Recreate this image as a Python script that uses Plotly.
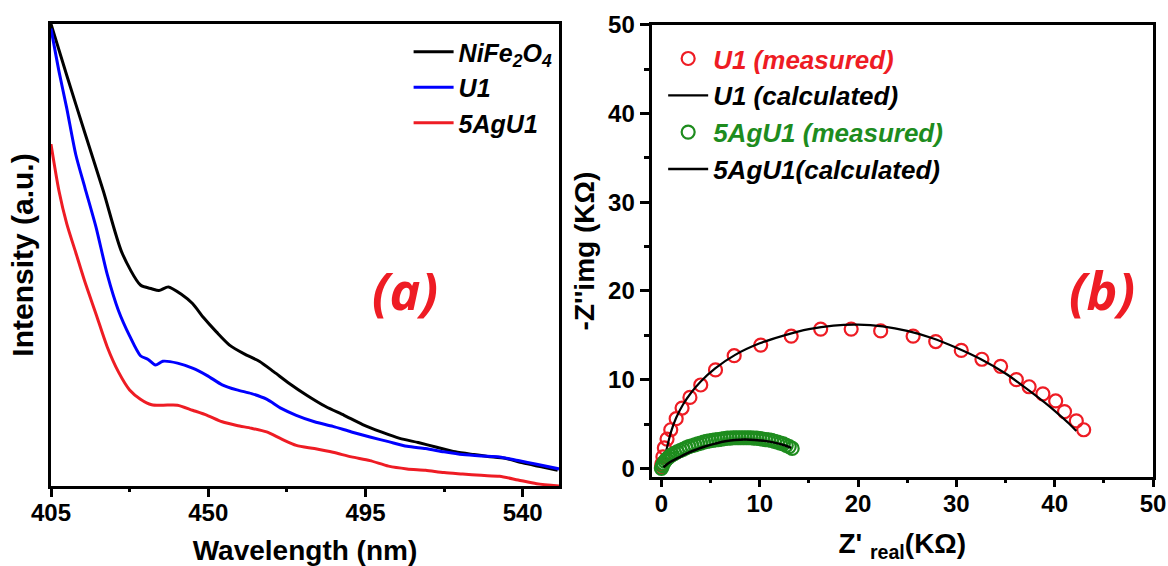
import plotly.graph_objects as go

# ---------------- Panel (a) data: intensity (a.u.) vs wavelength ----------------
wl_black = [405, 409.5, 414.7, 420, 425.3, 430.6, 433.8, 435.9, 438.6, 442.3, 445.5, 448.7,
            452.4, 456.1, 460.3, 464.6, 468.8, 473, 478.3, 483.6, 488.9, 494.2, 499.5,
            504.8, 510.1, 515.4, 520.7, 526, 530, 535, 540, 545, 550]
int_black = [100, 88.9, 76.4, 63.8, 50.5, 43.5, 42.7, 42.3, 43.1, 41.5, 39.5, 36.4,
             33.3, 30.5, 28.6, 27.0, 24.7, 22.3, 19.6, 17.2, 15.3, 13.3, 11.7,
             10.3, 9.4, 8.4, 7.4, 6.8, 6.4, 6.0, 5.0, 4.2, 3.4]

wl_blue = [405, 407.3, 409.5, 412.1, 414.7, 417.9, 421.1, 424.3, 427.5, 430.6, 432.8, 434.9,
           437, 441.2, 445.5, 449.7, 454, 458.2, 462.4, 466.7, 470.9, 475.2, 480.4, 485.7,
           491, 496.3, 501.6, 506.9, 512.2, 517.5, 522.8, 528.1, 533.4, 538.7, 544, 550.4]
int_blue = [99, 89.7, 81.8, 71.7, 64.6, 56.0, 45.8, 38.0, 32.5, 28.2, 27.4, 26.2,
            27.0, 26.6, 25.5, 23.9, 21.9, 20.8, 20.0, 18.8, 16.8, 15.3, 13.9, 12.9,
            11.7, 10.6, 9.6, 8.6, 8.1, 7.4, 6.8, 6.5, 6.3, 5.5, 4.7, 3.7]

wl_red = [405, 407.3, 409.5, 412.1, 414.7, 417.9, 421.1, 424.3, 427.5, 430.6, 433.8, 437,
          441.2, 445.5, 449.7, 454, 458.2, 462.4, 466.7, 470.9, 475.2, 480.4, 485.7, 491,
          496.3, 501.6, 506.9, 512.2, 517.5, 522.8, 528.1, 533.4, 538.7, 544, 550.4]
int_red = [74, 63.8, 56.8, 50.5, 44.2, 37.2, 30.1, 24.7, 20.8, 18.8, 17.6, 17.5,
           17.5, 16.4, 15.3, 13.9, 13.1, 12.5, 11.7, 10.2, 8.8, 8.1, 7.3, 6.3,
           5.5, 4.3, 3.7, 3.4, 2.9, 2.6, 2.3, 2.1, 1.3, 0.5, 0.0]

wl_ticks = [405, 450, 495, 540]
wl_minor_ticks = [427.5, 472.5, 517.5]

# ---------------- Panel (b) data: Nyquist plot ----------------
u1_meas_re = [0.0, 0.05, 0.15, 0.3, 0.57, 0.95, 1.5, 2.1, 2.9, 4.0, 5.5, 7.4, 10.1, 13.2,
              16.2, 19.3, 22.3, 25.6, 27.9, 30.5, 32.6, 34.5, 36.1, 37.4, 38.8, 40.1,
              41.0, 42.2, 42.95]
u1_meas_im = [0.1, 0.5, 1.3, 2.3, 3.3, 4.35, 5.6, 6.8, 8.0, 9.4, 11.1, 12.7, 13.9, 14.9,
              15.7, 15.7, 15.5, 14.9, 14.3, 13.3, 12.3, 11.5, 10.0, 9.2, 8.4, 7.6,
              6.4, 5.35, 4.35]

u1_calc_re = [0.3, 0.6, 1.0, 1.5, 2.2, 3.0, 4.0, 5.5, 7.5, 10, 12.5, 15, 17.5, 20, 22.5,
              25, 27.5, 30, 32.5, 35, 37, 39, 40.5, 41.5, 42.2]
u1_calc_im = [1.0, 2.5, 4.2, 5.7, 7.2, 8.5, 9.8, 11.3, 12.8, 14.1, 15.0, 15.7, 16.1, 16.2,
              16.0, 15.5, 14.7, 13.6, 12.3, 10.7, 9.1, 7.4, 6.0, 5.0, 4.2]

ag_meas_re = [0.0, 0.1, 0.2, 0.35, 0.5, 0.7, 0.9, 1.1, 1.35, 1.6, 1.9, 2.2, 2.5, 2.8, 3.1,
              3.4, 3.7, 4.0, 4.3, 4.6, 4.9, 5.2, 5.5, 5.8, 6.1, 6.4, 6.7, 7.0, 7.3, 7.6,
              7.9, 8.2, 8.5, 8.8, 9.1, 9.4, 9.7, 10.0, 10.3, 10.6, 10.9, 11.2, 11.5, 11.8,
              12.1, 12.4, 12.7, 13.0, 13.3]
ag_meas_im = [0.0, 0.3, 0.55, 0.8, 1.0, 1.2, 1.4, 1.55, 1.7, 1.85, 2.0, 2.15, 2.3, 2.45, 2.55,
              2.65, 2.75, 2.85, 2.95, 3.05, 3.1, 3.15, 3.2, 3.25, 3.3, 3.35, 3.4, 3.4, 3.45, 3.45,
              3.45, 3.45, 3.45, 3.45, 3.45, 3.4, 3.4, 3.35, 3.3, 3.25, 3.2, 3.15, 3.05, 2.95,
              2.85, 2.75, 2.6, 2.45, 2.25]

ag_calc_re = [0.2, 0.6, 1.2, 2.0, 2.6, 3.5, 4.5, 5.5, 6.5, 7.5, 8.5, 9.5, 10.5, 11.5, 12.5, 13.2]
ag_calc_im = [0.1, 0.5, 0.9, 1.35, 1.7, 2.1, 2.5, 2.8, 3.05, 3.2, 3.25, 3.2, 3.1, 2.9, 2.6, 2.3]

z_ticks = [0, 10, 20, 30, 40, 50]

RED = "#ee1c24"
BLUE = "#0000ff"
GREEN = "#1e8c1e"
FONT = "Liberation Sans"

fig = go.Figure()

# Panel (a) traces
spl = dict(shape="spline", smoothing=0.7)
fig.add_trace(go.Scatter(x=wl_black, y=int_black, mode="lines", name="NiFe<sub>2</sub>O<sub>4</sub>",
                         line=dict(color="black", width=3, **spl), xaxis="x", yaxis="y", legend="legend"))
fig.add_trace(go.Scatter(x=wl_blue, y=int_blue, mode="lines", name="U1",
                         line=dict(color=BLUE, width=3, **spl), xaxis="x", yaxis="y", legend="legend"))
fig.add_trace(go.Scatter(x=wl_red, y=int_red, mode="lines", name="5AgU1",
                         line=dict(color=RED, width=3, **spl), xaxis="x", yaxis="y", legend="legend"))

# Panel (b) traces
fig.add_trace(go.Scatter(x=u1_meas_re, y=u1_meas_im, mode="markers",
                         name=f"<span style='color:{RED}'>U1 (measured)</span>",
                         marker=dict(symbol="circle-open", size=13, color=RED, line=dict(width=2.2, color=RED)),
                         xaxis="x2", yaxis="y2", legend="legend2"))
fig.add_trace(go.Scatter(x=u1_calc_re, y=u1_calc_im, mode="lines",
                         name="U1 (calculated)", line=dict(color="black", width=2.2, shape="spline"),
                         xaxis="x2", yaxis="y2", legend="legend2"))
fig.add_trace(go.Scatter(x=ag_meas_re, y=ag_meas_im, mode="markers",
                         name=f"<span style='color:{GREEN}'>5AgU1 (measured)</span>",
                         marker=dict(symbol="circle-open", size=13, color=GREEN, line=dict(width=2.2, color=GREEN)),
                         xaxis="x2", yaxis="y2", legend="legend2"))
fig.add_trace(go.Scatter(x=ag_calc_re, y=ag_calc_im, mode="lines",
                         name="5AgU1(calculated)", line=dict(color="black", width=2.5, shape="spline"),
                         xaxis="x2", yaxis="y2", legend="legend2"))

# empty helper traces so the tick-mark overlay axes get rendered
fig.add_trace(go.Scatter(x=[], y=[], xaxis="x3", yaxis="y", showlegend=False, hoverinfo="skip"))
fig.add_trace(go.Scatter(x=[], y=[], xaxis="x4", yaxis="y2", showlegend=False, hoverinfo="skip"))

axis_common = dict(showline=True, linecolor="black", linewidth=3, mirror=True,
                   showgrid=False, zeroline=False, automargin=False,
                   tickfont=dict(family=FONT, size=24, color="black", weight="bold"))
title_font = dict(family=FONT, size=28, color="black", weight="bold")
minor_ticks = dict(ticks="outside", ticklen=5, tickwidth=3, tickcolor="black")
# overlay axes that only draw the outward tick marks of the x axes
tick_only = dict(showline=False, showgrid=False, zeroline=False, showticklabels=False,
                 automargin=False, ticks="outside", tickwidth=3, tickcolor="black")

XA_DOM = [0, 0.461]
XB_DOM = [0.545, 1]
XA_RANGE = [405, 550.4]
Z_RANGE = [-1, 50]

fig.update_layout(
    width=1168, height=566,
    margin=dict(l=51, r=15, t=24, b=80),
    paper_bgcolor="white", plot_bgcolor="white",
    showlegend=True,
    xaxis=dict(domain=XA_DOM, range=XA_RANGE, tickvals=wl_ticks, ticks="", ticklabelstandoff=3,
               title=dict(text="Wavelength (nm)", standoff=18, font=title_font),
               anchor="y", **axis_common),
    xaxis3=dict(domain=XA_DOM, range=XA_RANGE, tickvals=wl_ticks, ticklen=10,
                minor=dict(tickvals=wl_minor_ticks, **minor_ticks),
                overlaying="x", anchor="y", side="bottom", **tick_only),
    yaxis=dict(domain=[0, 1], range=[0, 100], showticklabels=False, ticks="",
               title=dict(text="Intensity (a.u.)", standoff=6,
                          font=dict(family=FONT, size=30, color="black", weight="bold")),
               anchor="x", **axis_common),
    xaxis2=dict(domain=XB_DOM, range=Z_RANGE, tickvals=z_ticks, ticks="", ticklabelstandoff=3,
                title=dict(text="Z' <sub>real</sub>(KΩ)", standoff=18, font=title_font),
                anchor="y2", **axis_common),
    xaxis4=dict(domain=XB_DOM, range=Z_RANGE, tickvals=z_ticks, ticklen=9,
                minor=dict(dtick=5, **minor_ticks),
                overlaying="x2", anchor="y2", side="bottom", **tick_only),
    yaxis2=dict(domain=[0.019, 0.998], range=Z_RANGE, tickvals=z_ticks,
                ticks="outside", ticklen=9, tickwidth=3, tickcolor="black",
                minor=dict(dtick=5, **minor_ticks),
                title=dict(text="-Z''img (KΩ)", standoff=6, font=title_font),
                anchor="x2", **axis_common),
    legend=dict(x=0.3245, y=0.989, xanchor="left", yanchor="top", bgcolor="rgba(0,0,0,0)",
                font=dict(family=FONT, size=25, color="black", weight="bold", style="italic"),
                tracegroupgap=0, itemwidth=40),
    legend2=dict(x=0.5555, y=0.976, xanchor="left", yanchor="top", bgcolor="rgba(0,0,0,0)",
                 font=dict(family=FONT, size=26, color="black", weight="bold", style="italic"),
                 tracegroupgap=0, itemwidth=40),
    annotations=[
        dict(text="(a)", xref="x domain", yref="y domain", x=0.628, y=0.425, xanchor="left",
             showarrow=False, font=dict(family="Open Sans", size=52, color=RED, weight="bold", style="italic")),
        dict(text="(b)", xref="x2 domain", yref="y2 domain", x=0.828, y=0.416, xanchor="left",
             showarrow=False, font=dict(family="Open Sans", size=52, color=RED, weight="bold", style="italic")),
    ],
)

fig.write_html("out.html")
